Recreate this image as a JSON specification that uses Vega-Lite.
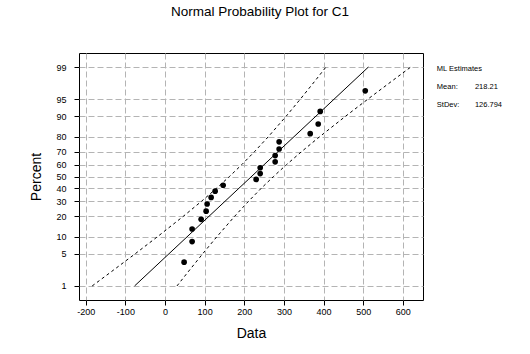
{
  "$schema": "https://vega.github.io/schema/vega-lite/v6.json",
  "width": 344,
  "height": 247,
  "autosize": {"type": "none"},
  "padding": {"left": 79, "top": 53, "right": 107, "bottom": 54},
  "background": "white",
  "title": {
    "text": "Normal Probability Plot for C1",
    "font": "Liberation Sans",
    "fontSize": 13.5,
    "fontWeight": "normal",
    "color": "black",
    "anchor": "middle",
    "baseline": "alphabetic",
    "dx": 9,
    "offset": 24
  },
  "config": {
    "view": {"stroke": "black", "strokeWidth": 1},
    "axis": {
      "domain": false,
      "tickColor": "black",
      "tickSize": 5,
      "tickCount": 30,
      "labelFont": "Liberation Sans",
      "labelFontSize": 9,
      "labelColor": "black",
      "labelOverlap": false,
      "titleFont": "Liberation Sans",
      "titleFontSize": 14,
      "titleFontWeight": "normal",
      "titleColor": "black",
      "grid": true,
      "gridColor": "#b4b4b4",
      "gridDash": [6, 3],
      "gridWidth": 1,
      "gridOpacity": 1
    }
  },
  "datasets": {
    "points": [
      {"x": 48.2, "percent": 3.43},
      {"x": 68.4, "percent": 8.33},
      {"x": 68.4, "percent": 13.24},
      {"x": 91.2, "percent": 18.14},
      {"x": 103.8, "percent": 23.04},
      {"x": 106.3, "percent": 27.94},
      {"x": 116.4, "percent": 32.84},
      {"x": 126.5, "percent": 37.75},
      {"x": 146.7, "percent": 42.65},
      {"x": 230.0, "percent": 47.55},
      {"x": 240.2, "percent": 52.45},
      {"x": 240.2, "percent": 57.35},
      {"x": 278.0, "percent": 62.25},
      {"x": 278.0, "percent": 67.16},
      {"x": 288.0, "percent": 72.06},
      {"x": 288.0, "percent": 76.96},
      {"x": 366.4, "percent": 81.86},
      {"x": 386.6, "percent": 86.76},
      {"x": 391.7, "percent": 91.67},
      {"x": 505.3, "percent": 96.57}
    ],
    "fit": [
      {"x": -76.75, "percent": 1},
      {"x": 513.17, "percent": 99}
    ],
    "bands": [
      {"side": "lower", "x": -183.73, "percent": 1},
      {"side": "lower", "x": -140.17, "percent": 2},
      {"side": "lower", "x": -75.59, "percent": 5},
      {"side": "lower", "x": -19.27, "percent": 10},
      {"side": "lower", "x": 46.83, "percent": 20},
      {"side": "lower", "x": 92.45, "percent": 30},
      {"side": "lower", "x": 129.64, "percent": 40},
      {"side": "lower", "x": 162.64, "percent": 50},
      {"side": "lower", "x": 193.88, "percent": 60},
      {"side": "lower", "x": 225.43, "percent": 70},
      {"side": "lower", "x": 260.25, "percent": 80},
      {"side": "lower", "x": 305.71, "percent": 90},
      {"side": "lower", "x": 341.53, "percent": 95},
      {"side": "lower", "x": 380.63, "percent": 98},
      {"side": "lower", "x": 406.19, "percent": 99},
      {"side": "upper", "x": 30.23, "percent": 1},
      {"side": "upper", "x": 55.79, "percent": 2},
      {"side": "upper", "x": 94.89, "percent": 5},
      {"side": "upper", "x": 130.71, "percent": 10},
      {"side": "upper", "x": 176.17, "percent": 20},
      {"side": "upper", "x": 210.99, "percent": 30},
      {"side": "upper", "x": 242.54, "percent": 40},
      {"side": "upper", "x": 273.78, "percent": 50},
      {"side": "upper", "x": 306.78, "percent": 60},
      {"side": "upper", "x": 343.97, "percent": 70},
      {"side": "upper", "x": 389.59, "percent": 80},
      {"side": "upper", "x": 455.69, "percent": 90},
      {"side": "upper", "x": 512.01, "percent": 95},
      {"side": "upper", "x": 576.59, "percent": 98},
      {"side": "upper", "x": 620.15, "percent": 99}
    ]
  },
  "layer": [
    {
      "data": {"name": "bands"},
      "transform": [{"calculate": "quantileNormal(datum.percent/100)", "as": "z"}],
      "mark": {"type": "line", "color": "black", "strokeWidth": 1, "strokeDash": [3, 3]},
      "encoding": {
        "x": {
          "field": "x", "type": "quantitative",
          "scale": {"domain": [-217, 651], "nice": false, "zero": false},
          "axis": {"values": [-200, -100, 0, 100, 200, 300, 400, 500, 600], "tickCount": 30, "labelExpr": "toString(datum.value)", "labelPadding": 2, "title": "Data", "titlePadding": 10}
        },
        "y": {
          "field": "z", "type": "quantitative",
          "scale": {"domain": [-2.625, 2.625], "nice": false, "zero": false},
          "axis": {
            "values": [-2.3263, -1.6449, -1.2816, -0.8416, -0.5244, -0.2533, 0, 0.2533, 0.5244, 0.8416, 1.2816, 1.6449, 2.3263],
            "tickCount": 30,
            "labelExpr": "format(cumulativeNormal(datum.value)*100, '.0f')",
            "labelPadding": 8,
            "title": "Percent",
            "titlePadding": 12
          }
        },
        "detail": {"field": "side"}
      }
    },
    {
      "data": {"name": "fit"},
      "transform": [{"calculate": "quantileNormal(datum.percent/100)", "as": "z"}],
      "mark": {"type": "line", "color": "black", "strokeWidth": 1},
      "encoding": {
        "x": {"field": "x", "type": "quantitative"},
        "y": {"field": "z", "type": "quantitative"}
      }
    },
    {
      "data": {"name": "points"},
      "transform": [{"calculate": "quantileNormal(datum.percent/100)", "as": "z"}],
      "mark": {"type": "circle", "color": "black", "opacity": 1, "size": 32},
      "encoding": {
        "x": {"field": "x", "type": "quantitative"},
        "y": {"field": "z", "type": "quantitative"}
      }
    },
    {
      "data": {"values": [{"label": "ML Estimates"}]},
      "mark": {"type": "text", "align": "left", "baseline": "middle", "font": "Liberation Sans", "fontSize": 7.5, "color": "black"},
      "encoding": {"x": {"datum": 686}, "y": {"datum": 2.277}, "text": {"field": "label"}}
    },
    {
      "data": {"values": [{"label": "Mean:"}]},
      "mark": {"type": "text", "align": "left", "baseline": "middle", "font": "Liberation Sans", "fontSize": 7.5, "color": "black"},
      "encoding": {"x": {"datum": 686}, "y": {"datum": 1.894}, "text": {"field": "label"}}
    },
    {
      "data": {"values": [{"label": "StDev:"}]},
      "mark": {"type": "text", "align": "left", "baseline": "middle", "font": "Liberation Sans", "fontSize": 7.5, "color": "black"},
      "encoding": {"x": {"datum": 686}, "y": {"datum": 1.511}, "text": {"field": "label"}}
    },
    {
      "data": {"values": [{"label": "218.21"}]},
      "mark": {"type": "text", "align": "left", "baseline": "middle", "font": "Liberation Sans", "fontSize": 7.5, "color": "black"},
      "encoding": {"x": {"datum": 782}, "y": {"datum": 1.894}, "text": {"field": "label"}}
    },
    {
      "data": {"values": [{"label": "126.794"}]},
      "mark": {"type": "text", "align": "left", "baseline": "middle", "font": "Liberation Sans", "fontSize": 7.5, "color": "black"},
      "encoding": {"x": {"datum": 782}, "y": {"datum": 1.511}, "text": {"field": "label"}}
    }
  ]
}
